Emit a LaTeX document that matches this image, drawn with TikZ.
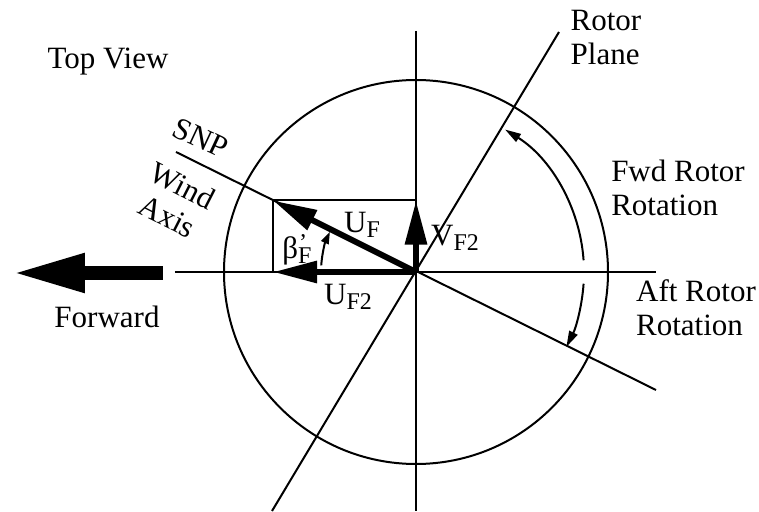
\documentclass[tikz,border=0pt]{standalone}
\usepackage{fontspec}
\setmainfont{Liberation Serif}
\usepackage{tikz}
\usetikzlibrary{positioning,arrows.meta}
\tikzset{
    axisline/.style={line width=2pt},
    vector/.style={line width=6pt, -{Triangle[length=44pt, width=21pt]}},
    turn/.style={line width=2pt, -{Triangle[length=16pt, width=9pt]}},
    label text/.style={font=\fontsize{31}{34}\selectfont, inner sep=0pt, align=left}
}
\newcommand{\lowidx}[1]{\raisebox{-0.35ex}{\fontsize{24}{24}\selectfont #1}}

\begin{document}
\begin{tikzpicture}[x=1pt, y=1pt]
    \useasboundingbox (-416,-239) rectangle (343,272);

    % Points
    \coordinate (o) at (0,0);
    \coordinate (vtop) at (0,241);
    \coordinate (vbot) at (0,-239);
    \coordinate (hleft) at (-241,0);
    \coordinate (hright) at (240,0);
    \coordinate (rotA) at (143,240);
    \coordinate (rotB) at (-144,-239);
    \coordinate (snpA) at (-240,120);
    \coordinate (snpB) at (240,-118);
    \coordinate (uf) at (-143,71.5);
    \coordinate (uf2) at (-143,0);
    \coordinate (vf2) at (0,71.5);
    \coordinate (fwdS) at (-253,-1);
    \coordinate (fwdE) at (-404,-1);

    % Circle and axes
    \draw[axisline] (o) circle[radius=192];
    \draw[axisline] (vtop) -- (vbot);
    \draw[axisline] (hleft) -- (hright);
    \draw[axisline] (rotA) -- (rotB);
    \draw[axisline] (snpA) -- (snpB);
    \draw[axisline] (uf2) -- (uf) -- (vf2);

    % Vectors
    \draw[vector] (o) -- (uf);
    \draw[vector] (o) -- (uf2);
    \draw[vector] (o) -- (vf2);
    \draw[line width=14pt, -{Triangle[length=73pt, width=36pt]}] (fwdS) -- (fwdE);

    % Rotation arcs
    \draw[turn] ([shift={(4:168)}]o) arc[start angle=4, end angle=58, radius=168];
    \draw[turn] ([shift={(-4:168)}]o) arc[start angle=-4, end angle=-26.5, radius=168];
    \draw[line width=2pt, -{Triangle[length=12pt, width=8pt]}]
        ([shift={(176:95)}]o) arc[start angle=176, end angle=155, radius=95];

    % Labels
    \node[label text] (topview) at (-308,210) {Top View};
    \node[label text, rotate=-25] (snp) at (-215,134) {SNP};
    \node[label text, rotate=-27, align=center] (windaxis) at (-241,71) {Wind\\Axis};
    \node[label text] (forward) at (-309,-45) {Forward};
    \node[label text] (rotorplane) at (190,234) {Rotor\\Plane};
    \node[label text] (fwdrot) at (262,84) {Fwd Rotor\\Rotation};
    \node[label text] (aftrot) at (280,-36) {Aft Rotor\\Rotation};
    \node[label text] (uflabel) at (-54,47) {U\lowidx{F}};
    \node[label text] (vflabel) at (39,34) {V\lowidx{F2}};
    \node[label text] (uf2label) at (-68,-25) {U\lowidx{F2}};
    \node[label text] (betalabel) at (-119,22)
        {β\rlap{\raisebox{0.55ex}{\fontsize{24}{24}\selectfont\kern1pt'}}\lowidx{F}};
\end{tikzpicture}
\end{document}
